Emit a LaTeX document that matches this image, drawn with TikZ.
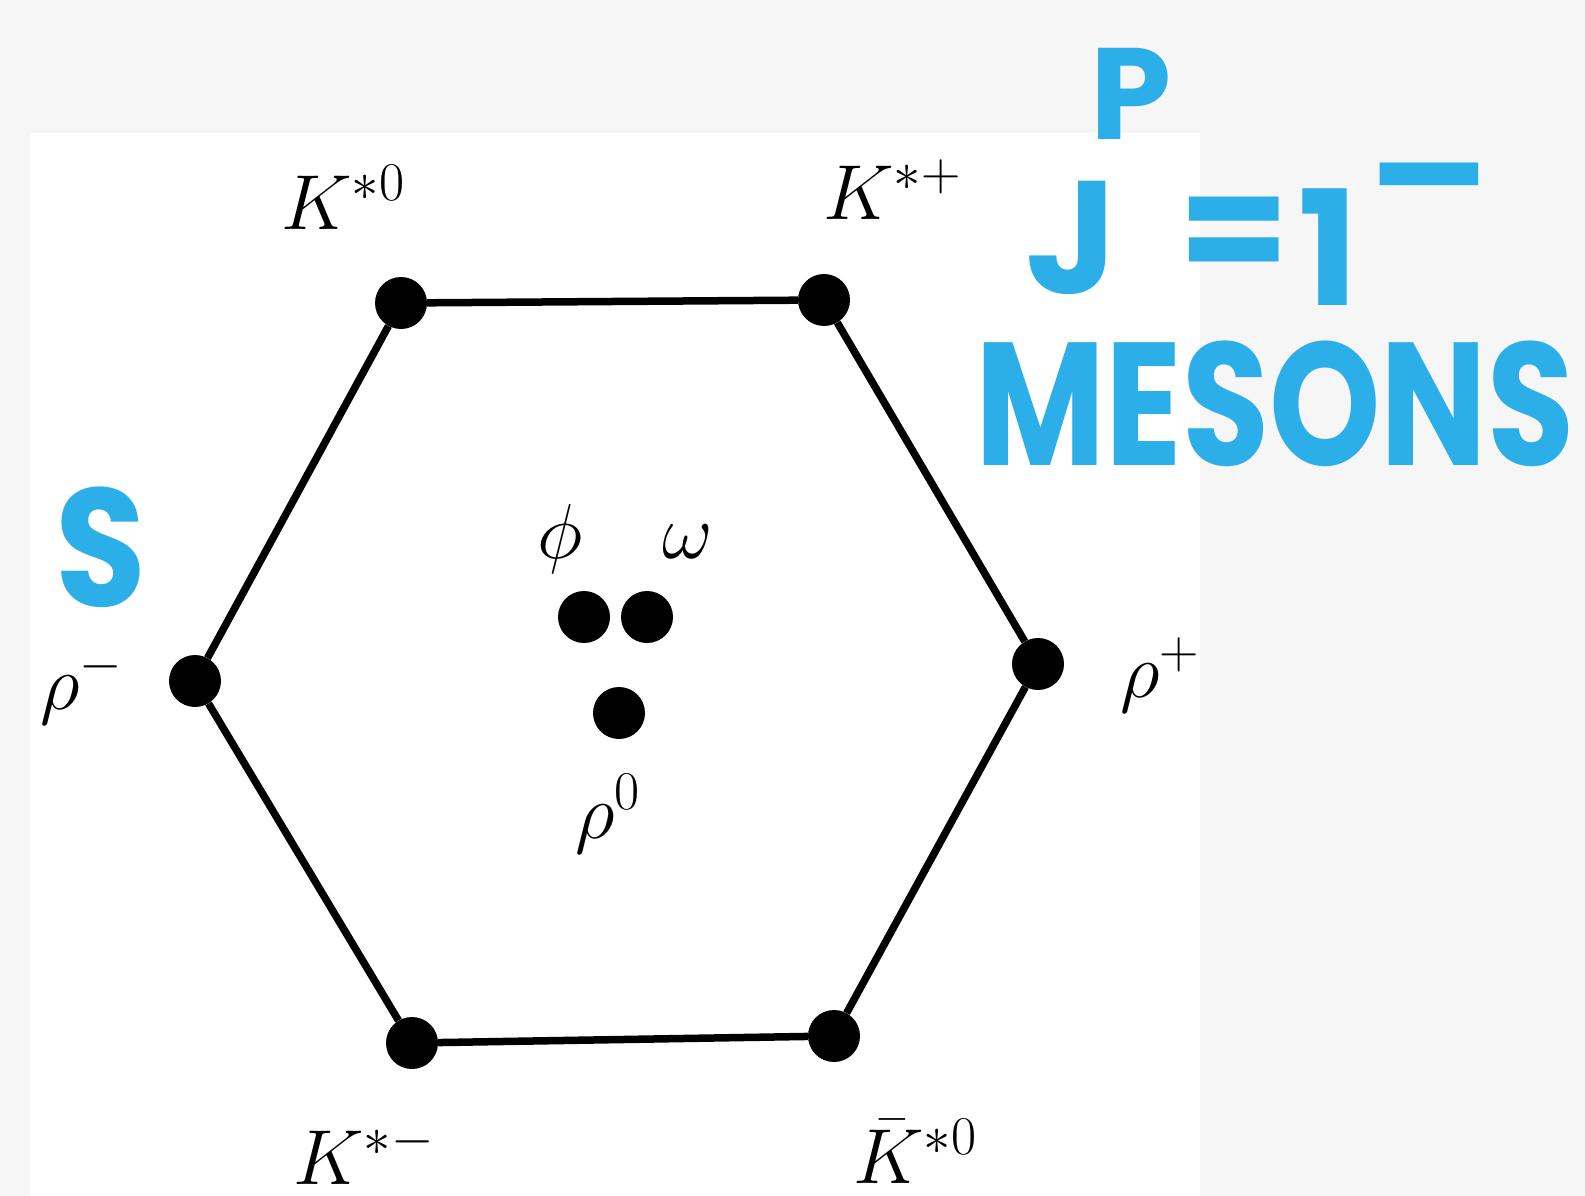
\RequirePackage{fix-cm}
\documentclass[tikz,border=0pt]{standalone}
\usepackage{fontspec}
\newfontfamily\handfont{Poppins}
\definecolor{handblue}{RGB}{44,174,232}
\definecolor{pagebg}{RGB}{246,246,247}
\begin{document}
\begin{tikzpicture}[x=1pt,y=-1pt,
  dot/.style={circle,fill=black,minimum size=52pt,inner sep=0pt},
  edge/.style={line width=7.5pt},
  lbl/.style={font=\fontsize{78}{90}\selectfont,inner sep=0pt},
  hand/.style={text=handblue,font=\handfont\bfseries\fontsize{160}{160}\selectfont,inner sep=0pt,text depth=0pt}]
\fill[pagebg] (0,0) rectangle (1585,1196);
\fill[white] (30,133) rectangle (1200,1196);
\useasboundingbox (0,0) rectangle (1585,1196);
\clip (0,0) rectangle (1585,1196);
% vertices
\node[dot] (kz) at (401,303) {};
\node[dot] (kp) at (824,300) {};
\node[dot] (rp) at (1038,664) {};
\node[dot] (kbz) at (834,1036) {};
\node[dot] (km) at (412,1043) {};
\node[dot] (rm) at (195,681) {};
\node[dot] (phi) at (584,617) {};
\node[dot] (om) at (647,617) {};
\node[dot] (rz) at (619,713) {};
\draw[edge] (kz) -- (kp) -- (rp) -- (kbz) -- (km) -- (rm) -- (kz);
% labels
\node[lbl,anchor=base west] (lkz) at (281,229) {$K^{*0}$};
\node[lbl,anchor=base west] (lkp) at (823,219) {$K^{*+}$};
\node[lbl,anchor=base west] (lrm) at (40,709) {$\rho^{-}$};
\node[lbl,anchor=base west] (lrp) at (1120,697) {$\rho^{+}$};
\node[lbl,anchor=base] (lphi) at (560,558) {$\phi$};
\node[lbl,anchor=base] (lom) at (688,558) {$\omega$};
\node[lbl,anchor=base west] (lrz) at (575,838) {$\rho^{0}$};
\node[lbl,anchor=base west,text depth=0pt] (lkm) at (293,1184) {$K^{*-}$};
\node[lbl,anchor=base west,text depth=0pt] (lkbz) at (853,1183) {$\bar{K}^{*0}$};
% handwritten annotations
\node[hand,anchor=base west] (hJ) at (1025,293) {J};
\node[hand,anchor=base west,font=\handfont\bfseries\fontsize{130}{130}\selectfont] (hP) at (1090,140) {P};
\node[hand,anchor=base west] (heq) at (1178,285) {=};
\node[hand,anchor=base west] (hone) at (1298,305) {1};
\node[hand,anchor=base west] (hmin) at (1368,230) {\scalebox{1.4}[1]{-}};
\node[hand,anchor=base west,font=\handfont\bfseries\fontsize{175}{175}\selectfont] (hmes) at (975,465) {\scalebox{0.81}[1]{MESONS}};
\node[hand,anchor=base east,font=\handfont\bfseries\fontsize{168}{168}\selectfont] (hs) at (147,606) {\scalebox{0.88}[1]{S}};
\end{tikzpicture}
\end{document}
